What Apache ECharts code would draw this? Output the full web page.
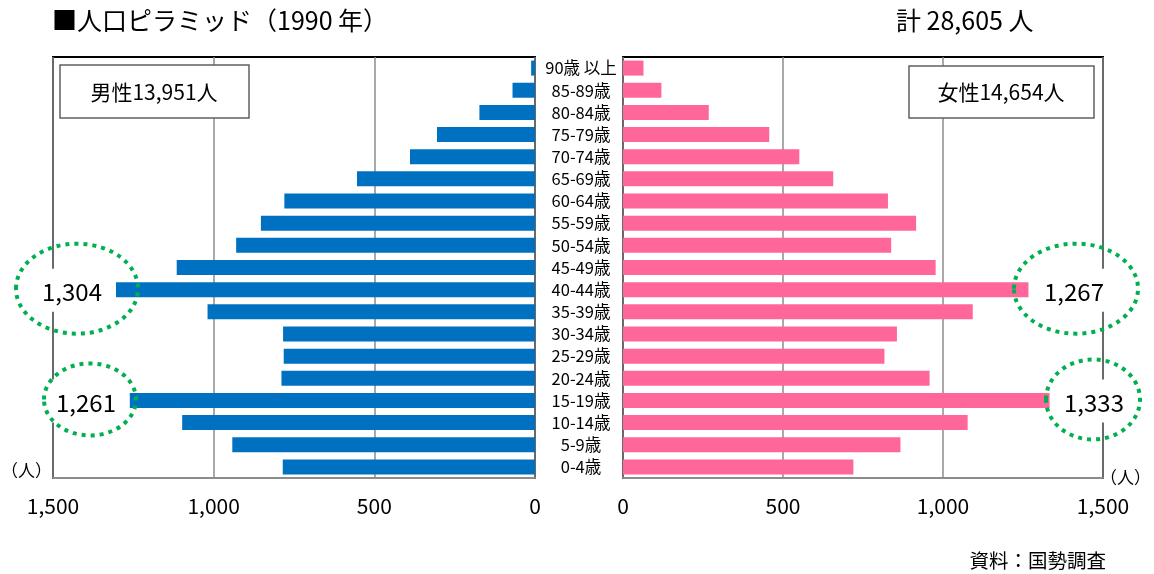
<!DOCTYPE html>
<html>
<head>
<meta charset="utf-8">
<script src="https://cdn.jsdelivr.net/npm/echarts@6/dist/echarts.min.js"></script>
<style>
  html, body { margin: 0; padding: 0; background: #fff; }
  #chart { width: 1154px; height: 574px; }
</style>
</head>
<body>
<div id="chart"></div>
<script>
// Age groups, youngest first (drawn bottom to top)
const ageGroups = ['0-4歳', '5-9歳', '10-14歳', '15-19歳', '20-24歳', '25-29歳', '30-34歳',
  '35-39歳', '40-44歳', '45-49歳', '50-54歳', '55-59歳', '60-64歳', '65-69歳', '70-74歳',
  '75-79歳', '80-84歳', '85-89歳', '90歳 以上'];

// Population by age group (persons)
const male = [785, 942, 1098, 1261, 789, 782, 784, 1019, 1304, 1115, 930, 853, 780, 554, 389, 305, 173, 70, 12];
const female = [720, 867, 1077, 1333, 958, 817, 856, 1093, 1267, 977, 838, 916, 828, 657, 551, 457, 268, 120, 64];

// Totals shown in the header boxes
const maleTotal = 13951;
const femaleTotal = 14654;

// Axis range
const axisMax = 1500;
const axisStep = 500;

// Age groups called out with a dotted ring on each side
const maleCallouts = ['40-44歳', '15-19歳'];
const femaleCallouts = ['40-44歳', '15-19歳'];

const titleText = '■人口ピラミッド（1990 年）';
const unitText = '（人）';
const sourceText = '資料：国勢調査';

const FONT = "'Liberation Sans Narrow', 'Noto Sans CJK JP', sans-serif";
const BLUE = '#0070C0';
const PINK = '#FF6699';
const GREEN = '#00B050';
const fmt = v => v.toLocaleString('en-US');

const chart = echarts.init(document.getElementById('chart'), null, { renderer: 'canvas' });

const gridTop = 57, gridHeight = 421;

const xAxisCommon = {
  type: 'value', min: 0, max: axisMax, interval: axisStep,
  axisLine: { show: true, lineStyle: { color: '#8c8c8c', width: 2 } },
  axisTick: { show: false },
  splitLine: { show: true, lineStyle: { color: '#8c8c8c', width: 1.5 } },
  axisLabel: { color: '#000', fontSize: 21, fontFamily: FONT, margin: 18, formatter: v => fmt(v) }
};

const option = {
  backgroundColor: '#fff',
  animation: false,
  grid: [
    { left: 53, width: 482, top: gridTop, height: gridHeight, show: true,
      borderColor: '#000', borderWidth: 2, backgroundColor: 'transparent', outerBoundsMode: 'none' },
    { left: 623, width: 480, top: gridTop, height: gridHeight, show: true,
      borderColor: '#000', borderWidth: 2, backgroundColor: 'transparent', outerBoundsMode: 'none' }
  ],
  xAxis: [
    Object.assign({ gridIndex: 0, inverse: true }, xAxisCommon),
    Object.assign({ gridIndex: 1 }, xAxisCommon)
  ],
  yAxis: [
    { type: 'category', gridIndex: 0, data: ageGroups, position: 'right',
      axisLine: { show: false }, axisTick: { show: false }, axisLabel: { show: false } },
    { type: 'category', gridIndex: 1, data: ageGroups, position: 'left',
      axisLine: { show: false }, axisTick: { show: false },
      axisLabel: { show: true, interval: 0, align: 'center', margin: 42,
        color: '#000', fontSize: 16.5, fontFamily: FONT } }
  ],
  series: [
    { name: '男性', type: 'bar', xAxisIndex: 0, yAxisIndex: 0, data: male,
      barWidth: 15, itemStyle: { color: BLUE } },
    { name: '女性', type: 'bar', xAxisIndex: 1, yAxisIndex: 1, data: female,
      barWidth: 15, itemStyle: { color: PINK } }
  ]
};

chart.setOption(option);

// Annotation layer: title, totals, unit marks, source and the dotted callouts
function textEl(text, x, y, size, align, z) {
  return { type: 'text', z: z || 20, style: { text: text, x: x, y: y, fontSize: size,
    fontFamily: FONT, fill: '#000', align: align || 'center', verticalAlign: 'middle' } };
}

function rowY(group, gridIdx) {
  return chart.convertToPixel({ yAxisIndex: gridIdx }, group);
}

const graphics = [
  textEl(titleText, 52, 20, 25, 'left'),
  textEl('計 ' + fmt(maleTotal + femaleTotal) + ' 人', 896, 20, 25, 'left'),
  textEl(unitText, 52, 471, 17, 'right'),
  textEl(unitText, 1100, 478, 17, 'left'),
  textEl(sourceText, 1106, 561, 19.5, 'right'),
  // header boxes
  { type: 'rect', z: 15, shape: { x: 60, y: 65, width: 189, height: 53 },
    style: { fill: '#fff', stroke: '#606060', lineWidth: 1.5 } },
  textEl('男性' + fmt(maleTotal) + '人', 154, 92, 21),
  { type: 'rect', z: 15, shape: { x: 909, y: 66, width: 185, height: 52 },
    style: { fill: '#fff', stroke: '#606060', lineWidth: 1.5 } },
  textEl('女性' + fmt(femaleTotal) + '人', 1001, 92, 21)
];

// Callout geometry: [text centre x, ring centre x, ring rx, ring ry, white patch x, patch width]
const maleRing = [[72, 77, 61, 45, 34, 78], [86, 90, 46, 36, 48, 78]];
const femaleRing = [[1074, 1076, 62, 45, 1036, 76], [1094, 1093, 47, 40, 1056, 76]];

function addCallouts(groups, values, rings, gridIdx) {
  groups.forEach((g, i) => {
    const idx = ageGroups.indexOf(g);
    const y = rowY(g, gridIdx);
    const r = rings[i];
    graphics.push({ type: 'rect', z: 1, shape: { x: r[4], y: y - 21, width: r[5], height: 43 },
      style: { fill: '#fff' } });
    graphics.push(textEl(fmt(values[idx]), r[0], y + 2, 24));
    graphics.push({ type: 'ellipse', z: 25, shape: { cx: r[1], cy: y - 1, rx: r[2], ry: r[3] },
      style: { fill: null, stroke: GREEN, lineWidth: 4, lineDash: [4, 5] } });
  });
}
addCallouts(maleCallouts, male, maleRing, 0);
addCallouts(femaleCallouts, female, femaleRing, 1);

chart.setOption({ graphic: graphics });
</script>
</body>
</html>
